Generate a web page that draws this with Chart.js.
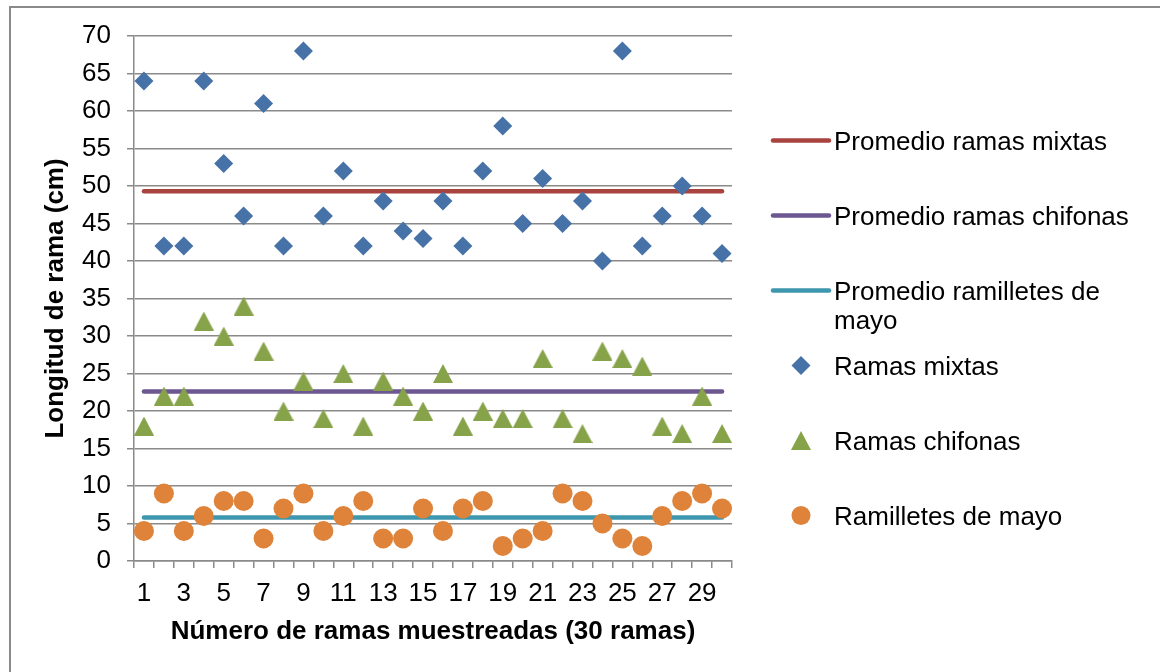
<!DOCTYPE html>
<html>
<head>
<meta charset="utf-8">
<script src="https://cdn.jsdelivr.net/npm/chart.js@4.4.0/dist/chart.umd.min.js"></script>
<style>
    html, body { margin: 0; padding: 0; background: #fff; overflow: hidden; }
    #wrap { position: relative; width: 1160px; height: 672px; overflow: hidden; }
    #frame { position: absolute; left: 9px; top: 6px; width: 1200px; height: 720px; border: 2px solid #8a8a8a; box-sizing: border-box; }
    canvas { position: absolute; left: 0; top: 0; }
</style>
</head>
<body>
<div id="wrap">
    <div id="frame"></div>
    <canvas id="chart" width="1160" height="672"></canvas>
</div>
<script>
const categories = ['1', '2', '3', '4', '5', '6', '7', '8', '9', '10',
    '11', '12', '13', '14', '15', '16', '17', '18', '19', '20',
    '21', '22', '23', '24', '25', '26', '27', '28', '29', '30'];

const ramasMixtas = [64, 42, 42, 64, 53, 46, 61, 42, 68, 46,
    52, 42, 48, 44, 43, 48, 42, 52, 58, 45,
    51, 45, 48, 40, 68, 42, 46, 50, 46, 41];
const ramasChifonas = [18, 22, 22, 32, 30, 34, 28, 20, 24, 19,
    25, 18, 24, 22, 20, 25, 18, 20, 19, 19,
    27, 19, 17, 28, 27, 26, 18, 17, 22, 17];
const ramilletesMayo = [4, 9, 4, 6, 8, 8, 3, 7, 9, 4,
    6, 8, 3, 3, 7, 4, 7, 8, 2, 3,
    4, 9, 8, 5, 3, 2, 6, 8, 9, 7];

// promedios (horizontal lines from first to last branch)
const promedioMixtas = 49.3;
const promedioChifonas = 22.6;
const promedioRamilletes = 5.8;

const yTicks = [0, 5, 10, 15, 20, 25, 30, 35, 40, 45, 50, 55, 60, 65, 70];

const xTitle = 'Número de ramas muestreadas (30 ramas)';
const yTitle = 'Longitud de rama (cm)';

const gridColor = '#8a8a8a';
const fontFamily = '"Liberation Sans", Arial, sans-serif';

// triangle marker centred on its bounding box, like the original
function makeTriangle(w, h, color) {
    const c = document.createElement('canvas');
    c.width = w;
    c.height = h;
    const g = c.getContext('2d');
    g.fillStyle = color;
    g.beginPath();
    g.moveTo(w / 2, 0);
    g.lineTo(w, h);
    g.lineTo(0, h);
    g.closePath();
    g.fill();
    return c;
}
const triangleImg = makeTriangle(20, 19, '#87a34a');

function flatLine(value) {
    return [
        { x: categories[0], y: value },
        { x: categories[categories.length - 1], y: value }
    ];
}

function lineSet(label, value, color) {
    return {
        label: label,
        data: flatLine(value),
        borderColor: color,
        backgroundColor: color,
        borderWidth: 4.5,
        borderCapStyle: 'round',
        pointRadius: 0,
        fill: false,
        order: 2
    };
}

function markerSet(label, data, color, style, radius) {
    return {
        label: label,
        data: data,
        showLine: false,
        pointStyle: style,
        pointRadius: radius,
        pointHoverRadius: radius,
        pointBorderWidth: 0,
        pointBackgroundColor: color,
        borderColor: color,
        backgroundColor: color,
        order: 1
    };
}

const sideLegend = {
    id: 'sideLegend',
    afterDraw(chart) {
        const ctx = chart.ctx;
        const lineX0 = 773, lineX1 = 829, markX = 801, textX = 834;
        ctx.save();
        ctx.font = '26px ' + fontFamily;
        ctx.textBaseline = 'middle';
        ctx.textAlign = 'left';
        chart.data.datasets.forEach((ds, i) => {
            const y = 140.5 + i * 75;
            if (ds.showLine === false) {
                ctx.fillStyle = ds.pointBackgroundColor;
                if (ds.pointStyle === 'rectRot') {
                    ctx.beginPath();
                    ctx.moveTo(markX, y - 9.5);
                    ctx.lineTo(markX + 9.5, y);
                    ctx.lineTo(markX, y + 9.5);
                    ctx.lineTo(markX - 9.5, y);
                    ctx.closePath();
                    ctx.fill();
                } else if (ds.pointStyle === 'circle') {
                    ctx.beginPath();
                    ctx.arc(markX, y, 9.5, 0, Math.PI * 2);
                    ctx.fill();
                } else {
                    const img = ds.pointStyle;
                    ctx.drawImage(img, markX - img.width / 2, y - img.height / 2);
                }
            } else {
                ctx.strokeStyle = ds.borderColor;
                ctx.lineWidth = 4.5;
                ctx.lineCap = 'round';
                ctx.beginPath();
                ctx.moveTo(lineX0, y);
                ctx.lineTo(lineX1, y);
                ctx.stroke();
            }
            // simple word wrap
            const words = ds.label.split(' ');
            const lines = [];
            let cur = '';
            words.forEach(w => {
                const test = cur ? cur + ' ' + w : w;
                if (ctx.measureText(test).width > 310 && cur) {
                    lines.push(cur);
                    cur = w;
                } else {
                    cur = test;
                }
            });
            lines.push(cur);
            ctx.fillStyle = '#000';
            lines.forEach((t, k) => ctx.fillText(t, textX, y + 2 + k * 29));
        });
        ctx.restore();
    }
};

const ctx = document.getElementById('chart').getContext('2d');
new Chart(ctx, {
    type: 'line',
    data: {
        labels: categories,
        datasets: [
            lineSet('Promedio ramas mixtas', promedioMixtas, '#a8433f'),
            lineSet('Promedio ramas chifonas', promedioChifonas, '#6d5790'),
            lineSet('Promedio ramilletes de mayo', promedioRamilletes, '#3d97af'),
            markerSet('Ramas mixtas', ramasMixtas, '#4672a8', 'rectRot', 9.5),
            markerSet('Ramas chifonas', ramasChifonas, '#87a34a', triangleImg, 10),
            markerSet('Ramilletes de mayo', ramilletesMayo, '#de8339', 'circle', 10)
        ]
    },
    options: {
        responsive: false,
        animation: false,
        events: [],
        layout: { padding: { left: 40, top: 36, right: 428, bottom: 0 } },
        plugins: {
            legend: { display: false },
            tooltip: { enabled: false }
        },
        scales: {
            x: {
                type: 'category',
                offset: true,
                grid: { offset: true, drawOnChartArea: false, tickLength: 7, color: gridColor, lineWidth: 1.5 },
                border: { color: gridColor, width: 1.5 },
                ticks: {
                    autoSkip: false,
                    maxRotation: 0,
                    padding: 10,
                    color: '#000',
                    font: { family: fontFamily, size: 26 },
                    callback: (v, i) => (i % 2 === 0 ? categories[i] : '')
                },
                title: {
                    display: true,
                    text: xTitle,
                    color: '#000',
                    font: { family: fontFamily, size: 26, weight: 'bold' },
                    padding: { top: 0, bottom: 25 }
                },
                afterFit: s => { s.height = 111; }
            },
            y: {
                min: 0,
                max: 70,
                afterBuildTicks: s => { s.ticks = yTicks.map(v => ({ value: v })); },
                grid: { color: gridColor, tickLength: 7, lineWidth: 1.5 },
                border: { color: gridColor, width: 1.5 },
                ticks: {
                    padding: 16,
                    color: '#000',
                    font: { family: fontFamily, size: 26 }
                },
                title: {
                    display: true,
                    text: yTitle,
                    color: '#000',
                    font: { family: fontFamily, size: 26, weight: 'bold' },
                    padding: 0
                },
                afterFit: s => { s.width = 94; }
            }
        }
    },
    plugins: [sideLegend]
});
</script>
</body>
</html>
